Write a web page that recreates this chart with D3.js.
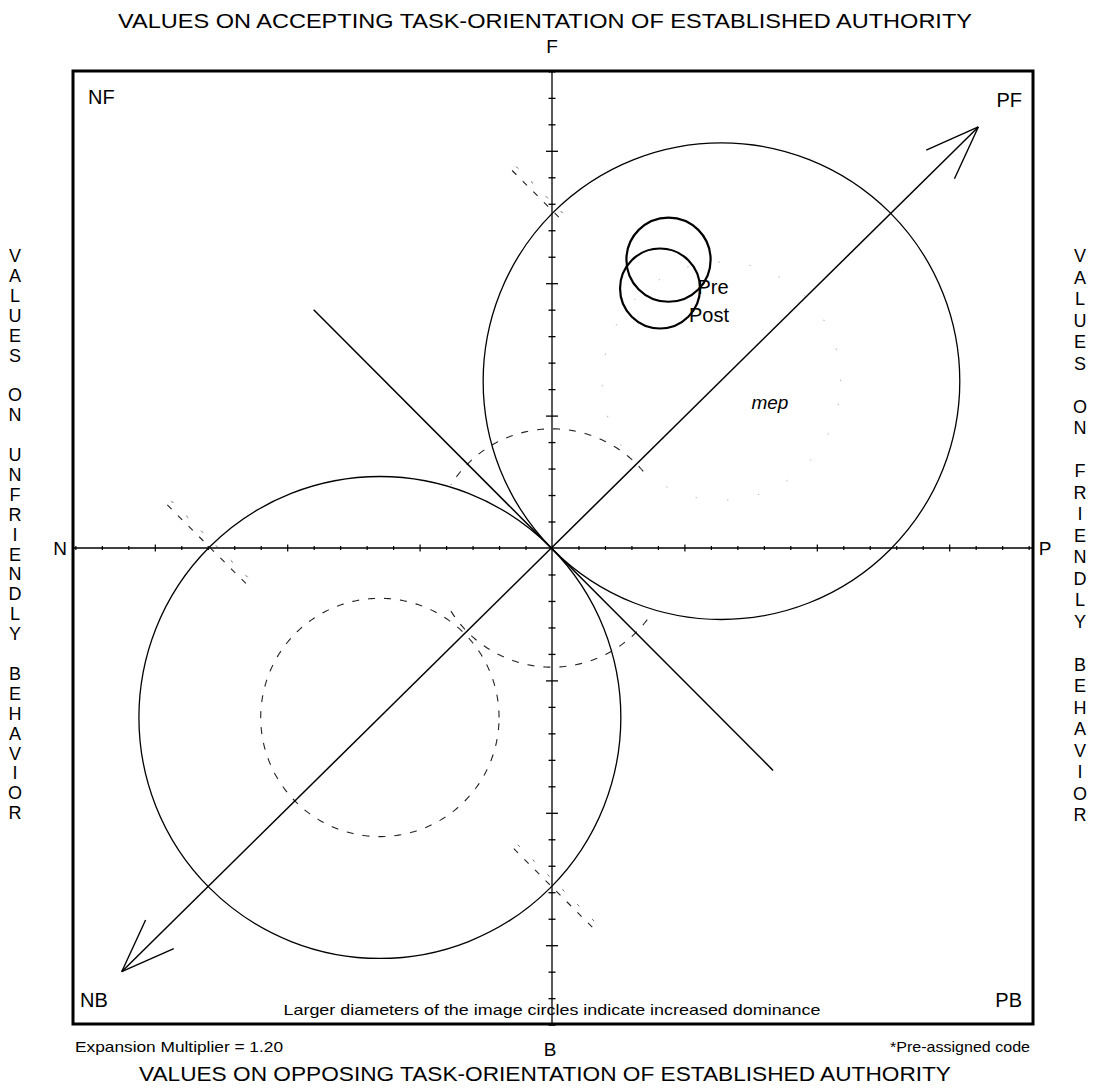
<!DOCTYPE html>
<html><head><meta charset="utf-8">
<script src="https://cdn.jsdelivr.net/npm/d3@7"></script>
<style>
html,body{margin:0;padding:0;background:#fff;}
svg{display:block;font-family:"Liberation Sans",Arial,Helvetica,sans-serif;}
</style></head>
<body>
<svg id="chart" width="1095" height="1091"></svg>
<script>
// ---------------- data ----------------
const axisExtent = [-18, 18];
const tickValues = d3.range(-18, 19).filter(v => v !== 0);
const majorEvery = 5;

// large field circles (units)
const fieldNames = ["mep", ""];
const fieldX = [6.4, -6.5];
const fieldY = [6.3, -6.4];
const fieldR = [9.0, 9.1];

// image circles
const imageNames = ["Pre", "Post"];
const imageX = [4.40, 4.08];
const imageY = [10.89, 9.80];
const imageR = [1.59, 1.51];

// dashed inner circles / arcs (units, angles in degrees, math convention)
const dashedCx = [-6.5, 0, 6.4];
const dashedCy = [-6.4, 0, 6.3];
const dashedR = [4.5, 4.5, 4.5];
const dashedFrom = [0, 40, 0];
const dashedTo = [360, 148, 360];
const dashedFaint = [false, false, true];
const dashedArc2From = [null, 212, null];
const dashedArc2To = [null, 325, null];

// line of balance (arrow) and line of opposition
const balanceFrom = [-16.25, -16.0];
const balanceTo = [16.1, 15.9];
const oppositionFrom = [-9.0, 9.0];
const oppositionTo = [8.35, -8.4];

// polarization dashed segments: crossing point, extent before/after along 45deg down-right (units)
const polX = [0.05, -12.9, -0.1];
const polY = [12.7, 0, -12.7];
const polStart = [-2.2, -2.3, -1.9];
const polEnd = [0.5, 2.0, 2.4];

// text
const topTitle = "VALUES ON ACCEPTING TASK-ORIENTATION OF ESTABLISHED AUTHORITY";
const bottomTitle = "VALUES ON OPPOSING TASK-ORIENTATION OF ESTABLISHED AUTHORITY";
const leftTitle = "VALUES ON UNFRIENDLY BEHAVIOR";
const rightTitle = "VALUES ON FRIENDLY BEHAVIOR";
const axisEnds = ["F", "B", "N", "P"];
const cornerLabels = ["NF", "PF", "NB", "PB"];
const noteText = "Larger diameters of the image circles indicate increased dominance";
const expansionText = "Expansion Multiplier = 1.20";
const codeText = "*Pre-assigned code";

// ---------------- drawing ----------------
const svg = d3.select("#chart");
const L = 73, R = 1033, T = 71, B = 1024;
const cx0 = 552, cy0 = 548, ppu = 26.48;
const x = d3.scaleLinear().domain([(L - cx0) / ppu, (R - cx0) / ppu]).range([L, R]);
const y = d3.scaleLinear().domain([(cy0 - B) / ppu, (cy0 - T) / ppu]).range([B, T]);
const rpx = u => x(u) - x(0);

const g = svg.append("g");

// axes through origin
g.append("line").attr("x1", x(0)).attr("x2", x(0)).attr("y1", T).attr("y2", B)
  .attr("stroke", "#000").attr("stroke-width", 1.3);
g.append("line").attr("x1", L).attr("x2", R).attr("y1", y(0)).attr("y2", y(0))
  .attr("stroke", "#000").attr("stroke-width", 1.3);

// ticks using d3 axes
const vAxis = d3.axisRight(y).tickValues(tickValues).tickFormat("").tickSizeOuter(0);
const vg = g.append("g").attr("transform", `translate(${x(0)},0)`).call(vAxis);
vg.select(".domain").remove();
vg.selectAll(".tick line").attr("x1", d => d % majorEvery === 0 ? -6 : -3.5)
  .attr("x2", d => d % majorEvery === 0 ? 6 : 3.5).attr("stroke", "#000").attr("stroke-width", 1.3);

const hAxis = d3.axisBottom(x).tickValues(tickValues).tickFormat("").tickSizeOuter(0);
const hg = g.append("g").attr("transform", `translate(0,${y(0)})`).call(hAxis);
hg.select(".domain").remove();
hg.selectAll(".tick line").attr("y1", d => d % majorEvery === 0 ? -3.5 : -2)
  .attr("y2", d => d % majorEvery === 0 ? 3.5 : 2).attr("stroke", "#000").attr("stroke-width", 1.2);

// dashed circles/arcs
const arcPath = (cx, cy, r, a0, a1) => {
  const pts = d3.range(a0, a1 + 0.01, 1).map(a => {
    const t = a * Math.PI / 180;
    return [x(cx) + rpx(r) * Math.cos(t), y(cy) - rpx(r) * Math.sin(t)];
  });
  return d3.line()(pts);
};
dashedCx.forEach((c, i) => {
  const faint = dashedFaint[i];
  const paths = [[dashedFrom[i], dashedTo[i]]];
  if (dashedArc2From[i] !== null) paths.push([dashedArc2From[i], dashedArc2To[i]]);
  paths.forEach(p => {
    g.append("path").attr("d", arcPath(c, dashedCy[i], dashedR[i], p[0], p[1]))
      .attr("fill", "none").attr("stroke", faint ? "#aaa" : "#222")
      .attr("stroke-width", faint ? 0.9 : 1.1)
      .attr("stroke-dasharray", faint ? "1.5,30" : "7,9");
  });
});

// polarization dashed segments
polX.forEach((px, i) => {
  const d = 1 / Math.SQRT2;
  const x1 = px + polStart[i] * d, y1 = polY[i] - polStart[i] * d;
  const x2 = px + polEnd[i] * d, y2 = polY[i] - polEnd[i] * d;
  g.append("line").attr("x1", x(x1)).attr("y1", y(y1)).attr("x2", x(x2)).attr("y2", y(y2))
    .attr("stroke", "#222").attr("stroke-width", 1.1).attr("stroke-dasharray", "6,9");
  g.append("line").attr("x1", x(x1) + 4).attr("y1", y(y1) - 4).attr("x2", x(x2) + 4).attr("y2", y(y2) - 4)
    .attr("stroke", "#444").attr("stroke-width", 0.8).attr("stroke-dasharray", "3,18");
});

// field circles
fieldNames.forEach((n, i) => {
  g.append("circle").attr("cx", x(fieldX[i])).attr("cy", y(fieldY[i])).attr("r", rpx(fieldR[i]))
    .attr("fill", "none").attr("stroke", "#000").attr("stroke-width", 1.3);
  if (n) g.append("text").attr("x", x(fieldX[i]) + 30).attr("y", y(fieldY[i]) + 28)
    .attr("font-size", 19).attr("font-style", "italic").text(n);
});

// line of opposition
g.append("line").attr("x1", x(oppositionFrom[0])).attr("y1", y(oppositionFrom[1]))
  .attr("x2", x(oppositionTo[0])).attr("y2", y(oppositionTo[1]))
  .attr("stroke", "#000").attr("stroke-width", 1.5);

// line of balance with arrowheads
g.append("line").attr("x1", x(balanceFrom[0])).attr("y1", y(balanceFrom[1]))
  .attr("x2", x(balanceTo[0])).attr("y2", y(balanceTo[1]))
  .attr("stroke", "#000").attr("stroke-width", 1.5);
const head = (tip, tail) => {
  const tx = x(tip[0]), ty = y(tip[1]);
  const ang = Math.atan2(y(tail[1]) - ty, x(tail[0]) - tx);
  [-0.36, 0.36].forEach(da => {
    g.append("line").attr("x1", tx).attr("y1", ty)
      .attr("x2", tx + 57 * Math.cos(ang + da)).attr("y2", ty + 57 * Math.sin(ang + da))
      .attr("stroke", "#000").attr("stroke-width", 1.4);
  });
};
head(balanceTo, balanceFrom);
head(balanceFrom, balanceTo);

// image circles
imageNames.forEach((n, i) => {
  g.append("circle").attr("cx", x(imageX[i])).attr("cy", y(imageY[i])).attr("r", rpx(imageR[i]))
    .attr("fill", "none").attr("stroke", "#000").attr("stroke-width", 2.2);
});
imageNames.forEach((n, i) => {
  g.append("text").attr("x", x(imageX[i]) + 29).attr("y", y(imageY[i]) + 34)
    .attr("font-size", 20).text(n);
});

// frame
g.append("rect").attr("x", L).attr("y", T).attr("width", R - L).attr("height", B - T)
  .attr("fill", "none").attr("stroke", "#000").attr("stroke-width", 3);

// titles
svg.append("text").attr("x", 545).attr("y", 28).attr("text-anchor", "middle")
  .attr("font-size", 21).attr("textLength", 854).attr("lengthAdjust", "spacingAndGlyphs").text(topTitle);
svg.append("text").attr("x", 545).attr("y", 1081).attr("text-anchor", "middle")
  .attr("font-size", 21).attr("textLength", 812).attr("lengthAdjust", "spacingAndGlyphs").text(bottomTitle);

// axis end letters
const endPos = [[x(0), 53, "middle"], [x(0) - 2, 1056, "middle"], [60, y(0) + 7, "middle"], [1045, y(0) + 7, "middle"]];
axisEnds.forEach((t, i) => svg.append("text").attr("x", endPos[i][0]).attr("y", endPos[i][1])
  .attr("text-anchor", endPos[i][2]).attr("font-size", 19).text(t));

// corner labels
const cornerPos = [[88, 104, "start"], [1022, 107, "end"], [80, 1007, "start"], [1022, 1007, "end"]];
cornerLabels.forEach((t, i) => svg.append("text").attr("x", cornerPos[i][0]).attr("y", cornerPos[i][1])
  .attr("text-anchor", cornerPos[i][2]).attr("font-size", 20).text(t));

// notes
svg.append("text").attr("x", 552).attr("y", 1015).attr("text-anchor", "middle").attr("font-size", 15)
  .attr("textLength", 537).attr("lengthAdjust", "spacingAndGlyphs").text(noteText);
svg.append("text").attr("x", 75).attr("y", 1052).attr("font-size", 15)
  .attr("textLength", 208).attr("lengthAdjust", "spacingAndGlyphs").text(expansionText);
svg.append("text").attr("x", 1030).attr("y", 1052).attr("text-anchor", "end").attr("font-size", 15)
  .attr("textLength", 140).attr("lengthAdjust", "spacingAndGlyphs").text(codeText);

// vertical stacked side titles
const stack = (str, cx, top, step) => {
  const t = svg.append("text").attr("font-size", 18).attr("text-anchor", "middle");
  str.split("").forEach((ch, i) => {
    if (ch === " ") return;
    t.append("tspan").attr("x", cx).attr("y", top + i * step).text(ch);
  });
};
stack(leftTitle, 15, 262, 19.9);
stack(rightTitle, 1080, 262, 21.5);
</script>
</body></html>
